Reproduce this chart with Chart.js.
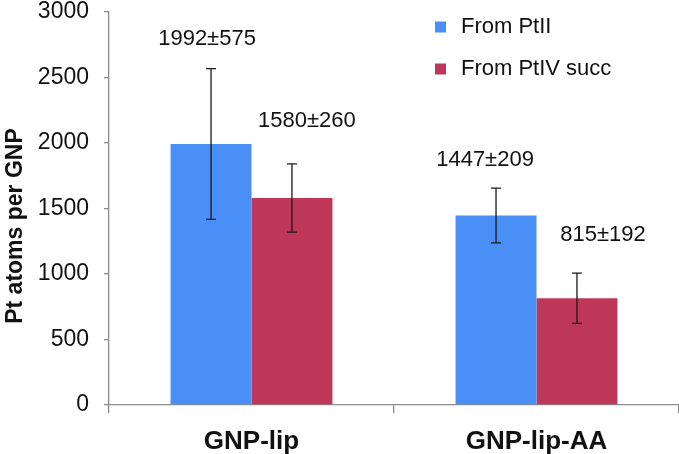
<!DOCTYPE html>
<html>
<head>
<meta charset="utf-8">
<script src="https://cdn.jsdelivr.net/npm/chart.js@4.4.1/dist/chart.umd.min.js"></script>
<style>
  html, body { margin: 0; padding: 0; background: #ffffff; }
  #wrap { width: 679px; height: 454px; }
</style>
</head>
<body>
<div id="wrap"><canvas id="c" width="679" height="454"></canvas></div>
<script>
// ---- data ----
const categories = ["GNP-lip", "GNP-lip-AA"];
const seriesNames = ["From PtII", "From PtIV succ"];
const fromPtII = [1992, 1447];
const fromPtIIErr = [575, 209];
const fromPtIVsucc = [1580, 815];
const fromPtIVsuccErr = [260, 192];
const yTicks = [0, 500, 1000, 1500, 2000, 2500, 3000];
const yTitle = "Pt atoms per GNP";

const FONT = "'Liberation Sans', Arial, Helvetica, sans-serif";
const BLUE = "#4a8ff5";
const RED = "#be3758";
const AXIS = "#8c8c8c";

// label pixel offsets (relative to bar centre x / error-bar top y)
const labelOffsets = [
  [[-4, -30], [-11, -28]],
  [[15, -43], [26, -38]]
];

const extras = {
  id: "extras",
  afterDatasetsDraw(chart) {
    const ctx = chart.ctx;
    const ys = chart.scales.y;
    const errs = [fromPtIIErr, fromPtIVsuccErr];
    ctx.save();
    chart.data.datasets.forEach((ds, di) => {
      const meta = chart.getDatasetMeta(di);
      meta.data.forEach((bar, i) => {
        const v = ds.data[i];
        const e = errs[di][i];
        const x = bar.x;
        const yTop = ys.getPixelForValue(v + e);
        const yBot = ys.getPixelForValue(v - e);
        ctx.strokeStyle = "#1a1a1a";
        ctx.lineWidth = 1.3;
        ctx.beginPath();
        ctx.moveTo(x, yTop); ctx.lineTo(x, yBot);
        ctx.moveTo(x - 5, yTop); ctx.lineTo(x + 5, yTop);
        ctx.moveTo(x - 5, yBot); ctx.lineTo(x + 5, yBot);
        ctx.stroke();
        // value label
        const off = labelOffsets[di][i];
        ctx.fillStyle = "#111";
        ctx.font = "22px " + FONT;
        ctx.textAlign = "center";
        ctx.textBaseline = "middle";
        ctx.fillText(v + "\u00b1" + e, x + off[0], yTop + off[1]);
      });
    });
    // legend
    const colors = [BLUE, RED];
    seriesNames.forEach((n, k) => {
      const cy = 27 + k * 42;
      ctx.fillStyle = colors[k];
      ctx.fillRect(435, cy - 5.5, 11, 11);
      ctx.fillStyle = "#111";
      ctx.font = "22px " + FONT;
      ctx.textAlign = "left";
      ctx.textBaseline = "middle";
      ctx.fillText(n, 461, cy);
    });
    // y title
    ctx.translate(16, 226);
    ctx.rotate(-Math.PI / 2);
    ctx.font = "bold 23px " + FONT;
    ctx.textAlign = "center";
    ctx.textBaseline = "middle";
    ctx.fillStyle = "#111";
    ctx.fillText(yTitle, 0, 0);
    ctx.restore();
  }
};

new Chart(document.getElementById("c"), {
  type: "bar",
  data: {
    labels: categories,
    datasets: [
      { label: seriesNames[0], data: fromPtII, backgroundColor: BLUE, borderWidth: 0,
        barPercentage: 1.0, categoryPercentage: 0.568 },
      { label: seriesNames[1], data: fromPtIVsucc, backgroundColor: RED, borderWidth: 0,
        barPercentage: 1.0, categoryPercentage: 0.568 }
    ]
  },
  options: {
    responsive: false,
    animation: false,
    devicePixelRatio: 1,
    layout: { padding: { left: 0, right: 0, top: 12, bottom: 0 } },
    plugins: { legend: { display: false }, tooltip: { enabled: false } },
    scales: {
      x: {
        grid: { display: true, drawOnChartArea: false, offset: true, tickLength: 8, color: AXIS, tickColor: AXIS, lineWidth: 1.3 },
        border: { display: true, color: AXIS, width: 1.3 },
        ticks: { color: "#111", font: { family: FONT, size: 26, weight: "bold" }, padding: 13 },
        afterFit(s) { s.height = 49; s.paddingLeft = 0; s.paddingRight = 0; }
      },
      y: {
        min: 0, max: 3000,
        afterBuildTicks(s) { s.ticks = yTicks.map(v => ({ value: v })); },
        grid: { display: true, drawOnChartArea: false, tickLength: 5, color: AXIS, tickColor: AXIS, lineWidth: 1.3 },
        border: { display: true, color: AXIS, width: 1.3 },
        ticks: { color: "#111", font: { family: FONT, size: 23 }, padding: 15,
                 callback: (v) => String(v) },
        afterFit(s) { s.width = 109; s.paddingTop = 0; s.paddingBottom = 0; }
      }
    }
  },
  plugins: [extras]
});
</script>
</body>
</html>
